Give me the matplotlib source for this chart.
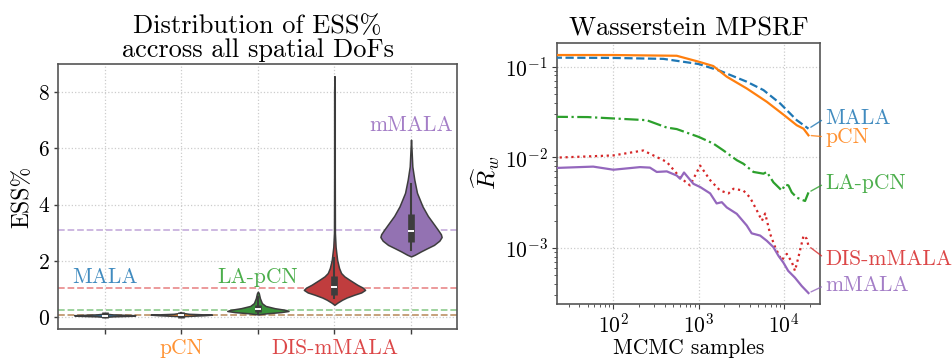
import colorsys
import numpy as np
import matplotlib
matplotlib.use("Agg")
import matplotlib.pyplot as plt
import matplotlib.colors as mcolors

plt.rcParams['font.family'] = ['cmr10', 'DejaVu Serif']
plt.rcParams['mathtext.fontset'] = 'cm'
plt.rcParams['axes.formatter.use_mathtext'] = True
plt.rcParams['axes.unicode_minus'] = False

# ---- data: left panel (ESS% violins) ----
methods = ['MALA', 'pCN', 'LA-pCN', 'DIS-mMALA', 'mMALA']
colors = ['#1f77b4', '#ff7f0e', '#2ca02c', '#d62728', '#9467bd']

# density profiles: (ESS levels, relative half-width)
prof_levels = [
    [0.01, 0.03, 0.05, 0.07, 0.10, 0.13],
    [0.02, 0.04, 0.07, 0.09, 0.12, 0.16],
    [0.10, 0.14, 0.18, 0.22, 0.26, 0.32, 0.40, 0.50, 0.68, 0.85, 0.91],
    [0.44, 0.52, 0.62, 0.70, 0.80, 0.88, 0.97, 1.05, 1.15, 1.33, 1.45, 1.57,
     1.75, 2.04, 2.5, 3.0, 5.0, 8.0, 8.57],
    [2.16, 2.22, 2.34, 2.45, 2.57, 2.72, 2.85, 2.95, 3.11, 3.3, 3.6, 3.94,
     4.42, 4.89, 5.36, 6.0, 6.31],
]
prof_width = [
    [0.0, 0.1, 0.35, 0.4, 0.1, 0.0],
    [0.0, 0.05, 0.3, 0.4, 0.1, 0.0],
    [0.0, 0.12, 0.30, 0.40, 0.36, 0.22, 0.10, 0.052, 0.026, 0.012, 0.0],
    [0.0, 0.04, 0.10, 0.16, 0.26, 0.35, 0.40, 0.37, 0.30, 0.196, 0.13, 0.087,
     0.06, 0.035, 0.015, 0.006, 0.004, 0.004, 0.0],
    [0.0, 0.05, 0.13, 0.21, 0.30, 0.37, 0.40, 0.39, 0.35, 0.30, 0.22, 0.15,
     0.078, 0.043, 0.017, 0.006, 0.0],
]
# box stats: q1, median, q3, whisker low, whisker high
box_q1 = [-0.04, -0.02, 0.20, 0.79, 2.69]
box_med = [0.06, 0.09, 0.28, 1.07, 3.08]
box_q3 = [0.17, 0.19, 0.42, 1.48, 3.68]
wh_lo = [0.0, 0.02, 0.12, 0.68, 2.40]
wh_hi = [0.12, 0.15, 0.72, 2.12, 4.75]
mean_ess = [0.07, 0.09, 0.26, 1.05, 3.10]

# ---- data: right panel (Wasserstein MPSRF) ----
mala_x = [20, 100, 385, 1000, 1778, 3650, 5730, 8990, 14060, 19300]
mala_y = [0.1258, 0.125, 0.122, 0.107, 0.090, 0.0683, 0.0552, 0.0393, 0.0257, 0.0207]
pcn_x = [20, 100, 552, 1000, 1480, 2130, 3650, 6270, 10000, 14060, 16870, 19290]
pcn_y = [0.1345, 0.1345, 0.132, 0.1135, 0.1017, 0.0775, 0.0575, 0.041, 0.0292,
         0.0226, 0.0207, 0.0175]
lapcn_x = [20, 50, 245, 422, 552, 1000, 1480, 1950, 2790, 3335, 4370, 5730, 6270,
           7500, 9400, 10280, 11230, 12300, 14060, 16100, 17600, 19290]
lapcn_y = [0.028, 0.0278, 0.0257, 0.0213, 0.0205, 0.0168, 0.0142, 0.0119, 0.0093,
           0.0085, 0.0069, 0.0066, 0.0069, 0.0053, 0.0043, 0.0050, 0.0049, 0.0041,
           0.0036, 0.0034, 0.0033, 0.0041]
dis_x = [20, 100, 224, 422, 605, 790, 1040, 1360, 1778, 2230, 2550, 3335, 3990,
         4790, 5500, 6000, 6860, 7850, 9340, 10750, 12300, 13400, 14700, 16900,
         18450, 19300]
dis_y = [0.0099, 0.0105, 0.0119, 0.0089, 0.0060, 0.0049, 0.0081, 0.0056, 0.0043,
         0.0040, 0.0045, 0.0043, 0.0036, 0.0026, 0.0020, 0.0024, 0.00143, 0.00102,
         0.00073, 0.00086, 0.0007, 0.00056, 0.00079, 0.00137, 0.00126, 0.00105]
mmala_x = [20, 58, 100, 205, 268, 322, 422, 552, 605, 672, 866, 1040, 1360, 1620,
           1862, 2130, 2790, 3650, 4170, 5240, 6270, 7500, 8580, 9800, 11150,
           13400, 16100, 19300]
mmala_y = [0.00762, 0.0079, 0.0073, 0.0078, 0.0077, 0.0069, 0.0070, 0.0063, 0.0058,
           0.0068, 0.0051, 0.0047, 0.0040, 0.0031, 0.0032, 0.0028, 0.00238, 0.00177,
           0.00145, 0.00137, 0.0012, 0.00102, 0.00082, 0.00069, 0.00056, 0.00047,
           0.00038, 0.000318]
label_y = [0.0272, 0.0168, 0.0052, 0.00076, 0.00039]


def desat(c, prop=0.75):
    h, l, s = colorsys.rgb_to_hls(*mcolors.to_rgb(c))
    return colorsys.hls_to_rgb(h, l, s * prop)


fig = plt.figure(figsize=(9.53, 3.6), dpi=100)
ax1 = fig.add_axes([0.0609, 0.0861, 0.4186, 0.7361])
ax2 = fig.add_axes([0.5842, 0.1556, 0.2762, 0.7258])

edge = '#3d3d3d'
spine_c = '#555555'
lab_fs = 15.5

# ---- left panel ----
for i in range(5):
    lv = np.array(prof_levels[i])
    w = np.array(prof_width[i])
    ax1.fill_betweenx(lv, i - w, i + w, facecolor=desat(colors[i]),
                      edgecolor=edge, lw=1.1, zorder=3)
    ax1.plot([i, i], [wh_lo[i], wh_hi[i]], color=edge, lw=1.5, zorder=4)
    ax1.plot([i, i], [box_q1[i], box_q3[i]], color=edge, lw=4.8,
             solid_capstyle='butt', zorder=5)
    ax1.plot([i], [box_med[i]], marker='_', color='white', ms=4.5, mew=1.4,
             zorder=6)
    ax1.axhline(mean_ess[i], color=colors[i], ls='--', lw=1.3, alpha=0.5,
                zorder=2)

ax1.set_xlim(-0.61, 4.6)
ax1.set_ylim(-0.42, 9.0)
ax1.set_yticks([0, 2, 4, 6, 8])
ax1.set_xticks(range(5))
ax1.set_xticklabels(['', 'pCN', '', 'DIS-mMALA', ''], fontsize=lab_fs)
for i, t in enumerate(ax1.get_xticklabels()):
    t.set_color(colors[i])
    t.set_alpha(0.85)
for i, yy in [(0, 1.23), (2, 1.23), (4, 6.63)]:
    ax1.text(i, yy, methods[i], color=colors[i], alpha=0.85, fontsize=lab_fs,
             ha='center', va='baseline')
ax1.tick_params(axis='x', length=3.5, width=1, color=edge, pad=3)
ax1.tick_params(axis='y', length=3, width=1, color=edge, labelsize=15.5, pad=3)
ax1.grid(True, ls=':', color='#cccccc', lw=0.9)
ax1.set_axisbelow(True)
ax1.set_ylabel('ESS%', fontsize=17, labelpad=3)
ax1.set_title('Distribution of ESS%\naccross all spatial DoFs', fontsize=19,
              linespacing=1.0, pad=5)

# ---- right panel ----
series_x = [mala_x, pcn_x, lapcn_x, dis_x, mmala_x]
series_y = [mala_y, pcn_y, lapcn_y, dis_y, mmala_y]
styles = ['--', '-', '-.', ':', '-']
for i in range(5):
    ax2.plot(series_x[i], series_y[i], color=colors[i], ls=styles[i], lw=1.6,
             zorder=3)
    ax2.annotate(methods[i], xy=(series_x[i][-1], series_y[i][-1]),
                 xytext=(3.05e4, label_y[i]), color=colors[i], alpha=0.85,
                 fontsize=lab_fs, va='center', ha='left', annotation_clip=False,
                 arrowprops=dict(arrowstyle='-', color=colors[i], lw=1,
                                 alpha=0.8, shrinkA=1, shrinkB=2,
                                 relpos=(0, 0.5)))
ax2.set_xscale('log')
ax2.set_yscale('log')
ax2.set_xlim(21.7, 26300)
ax2.set_ylim(2.41e-4, 0.184)
ax2.grid(True, which='major', ls=':', color='#cccccc', lw=0.9)
ax2.tick_params(which='major', length=3.5, labelsize=15.5, color=edge, pad=3)
ax2.tick_params(which='minor', length=2, color=edge)
ax2.set_xlabel('MCMC samples', fontsize=15.5, labelpad=1)
ax2.set_ylabel(r'$\widehat{R}_w$', fontsize=18, labelpad=2)
ax2.set_title('Wasserstein MPSRF', fontsize=19, pad=5)

for ax in (ax1, ax2):
    for s in ax.spines.values():
        s.set_color(spine_c)
        s.set_linewidth(1.2)

fig.savefig('out.png', dpi=100)
